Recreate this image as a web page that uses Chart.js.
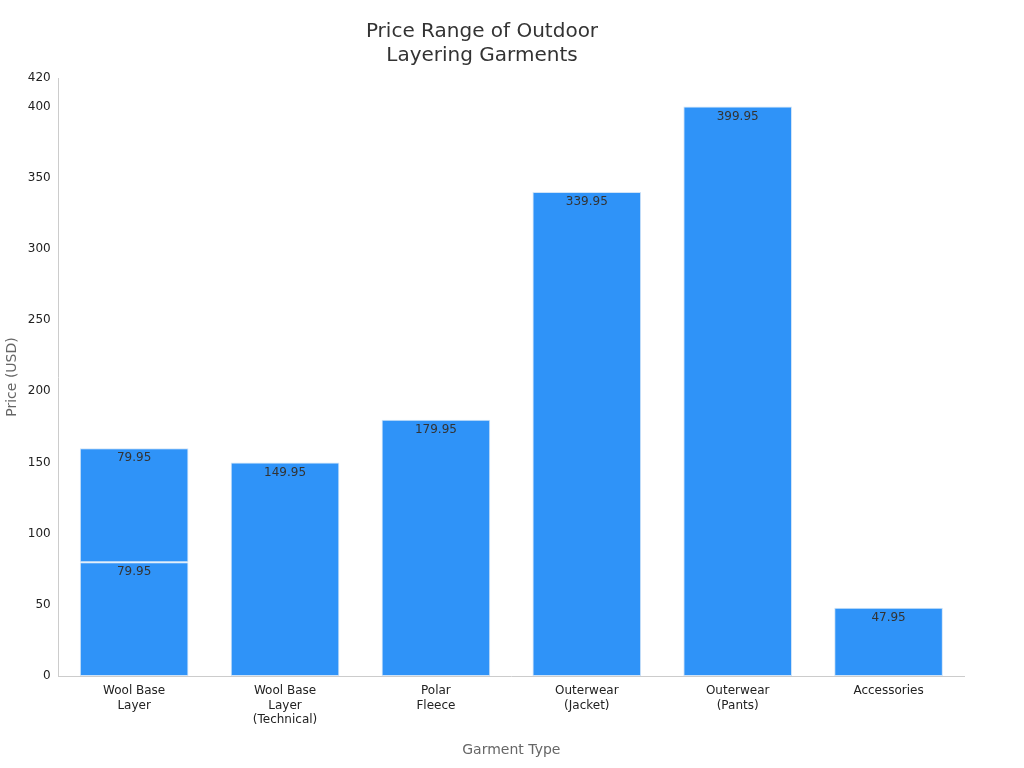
<!DOCTYPE html>
<html><head><meta charset="utf-8">
<script src="https://cdn.jsdelivr.net/npm/chart.js@4"></script>
<style>html,body{margin:0;background:#fff}#w{width:1024px;height:768px}</style>
</head><body><div id="w"><canvas id="c"></canvas></div>
<script>
const categories=[["Wool Base","Layer"],["Wool Base","Layer","(Technical)"],["Polar","Fleece"],["Outerwear","(Jacket)"],["Outerwear","(Pants)"],["Accessories"]];
const baseValues=[79.95,149.95,179.95,339.95,399.95,47.95];
const upperValues=[79.95,null,null,null,null,null];
const yTicks={min:0,max:420,step:50};
const labelPlugin={id:'lbl',afterDatasetsDraw(ch){const c=ch.ctx;c.save();c.font='12px "DejaVu Sans"';c.fillStyle='#333';c.textAlign='center';c.textBaseline='top';
ch.data.datasets.forEach((d,i)=>{ch.getDatasetMeta(i).data.forEach((b,j)=>{const v=d.data[j];if(v==null)return;c.fillText(v.toFixed(2),b.x,b.y+4);});});c.restore();}};
new Chart(document.getElementById('c'),{type:'bar',
data:{labels:categories,datasets:[
{data:baseValues,backgroundColor:'#2f93f8',borderColor:'#cfe3f7',borderWidth:1,borderSkipped:false},
{data:upperValues,backgroundColor:'#2f93f8',borderColor:'#cfe3f7',borderWidth:1,borderSkipped:false}]},
options:{responsive:true,maintainAspectRatio:false,animation:false,
layout:{padding:{left:0,right:60,top:10,bottom:5}},
plugins:{legend:{display:false},tooltip:{enabled:false},
title:{display:true,text:['Price Range of Outdoor','Layering Garments'],color:'#333',font:{family:'DejaVu Sans',size:20,weight:'normal'},padding:{top:10,bottom:10}}},
scales:{x:{stacked:true,categoryPercentage:1,barPercentage:0.8,grid:{display:false,drawTicks:true,tickLength:5},border:{color:'#ccc'},
ticks:{color:'#222',font:{family:'DejaVu Sans',size:12},maxRotation:0},
title:{display:true,text:'Garment Type',color:'#666',font:{family:'DejaVu Sans',size:14},padding:{top:12}}},
y:{stacked:true,min:yTicks.min,max:yTicks.max,grid:{display:false,drawTicks:true,tickLength:5},border:{color:'#ccc'},
ticks:{stepSize:yTicks.step,color:'#222',font:{family:'DejaVu Sans',size:12}},
title:{display:true,text:'Price (USD)',color:'#666',font:{family:'DejaVu Sans',size:14}}}}},
plugins:[labelPlugin]});
</script></body></html>
